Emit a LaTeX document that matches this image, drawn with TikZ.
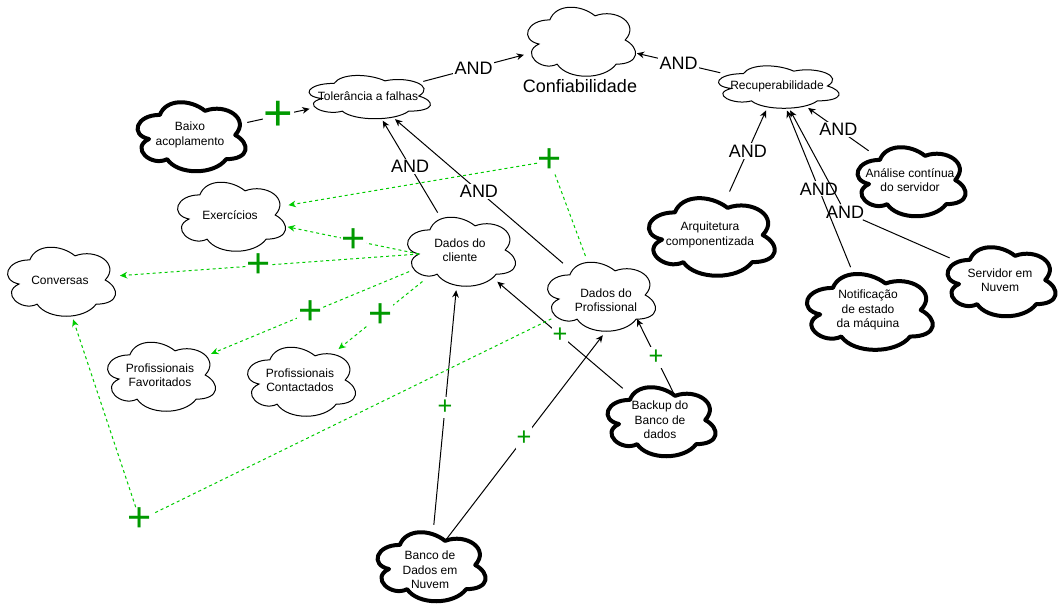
\documentclass[tikz,border=0pt]{standalone}
\usepackage{fontspec}
\setmainfont{Liberation Sans}
\usetikzlibrary{calc,arrows.meta,shapes.geometric}

\definecolor{plusgreen}{RGB}{0,153,0}
\definecolor{dashgreen}{RGB}{0,204,0}

\newcommand{\andfont}{\fontsize{13.5}{16}\selectfont}
\newcommand{\hugeplusfont}{\fontsize{38}{38}\selectfont}
\newcommand{\bigplusfont}{\fontsize{31}{31}\selectfont}
\newcommand{\smallplusfont}{\fontsize{19}{19}\selectfont}

% cloud outline inside the box of a node
\newcommand{\cldx}[1]{\x1+#1*((\x3)-(\x1))}
\newcommand{\cldy}[1]{\y2+#1*((\y4)-(\y2))}
\newcommand{\cloudpath}[1]{let \p1=(#1.west), \p2=(#1.north), \p3=(#1.east), \p4=(#1.south) in
 ({\cldx{0.25}},{\cldy{0.25}})
 .. controls ({\cldx{0.05}},{\cldy{0.25}}) and ({\cldx{0}},{\cldy{0.5}}) .. ({\cldx{0.16}},{\cldy{0.55}})
 .. controls ({\cldx{0}},{\cldy{0.66}}) and ({\cldx{0.18}},{\cldy{0.9}}) .. ({\cldx{0.31}},{\cldy{0.8}})
 .. controls ({\cldx{0.4}},{\cldy{1}}) and ({\cldx{0.7}},{\cldy{1}}) .. ({\cldx{0.8}},{\cldy{0.8}})
 .. controls ({\cldx{1}},{\cldy{0.8}}) and ({\cldx{1}},{\cldy{0.6}}) .. ({\cldx{0.875}},{\cldy{0.5}})
 .. controls ({\cldx{1}},{\cldy{0.3}}) and ({\cldx{0.8}},{\cldy{0.1}}) .. ({\cldx{0.625}},{\cldy{0.2}})
 .. controls ({\cldx{0.5}},{\cldy{0.05}}) and ({\cldx{0.3}},{\cldy{0.05}}) .. cycle}

\begin{document}
\begin{tikzpicture}[x=0.75pt,y=-0.75pt,font=\fontsize{9}{10.8}\selectfont,every label/.style={align=center,inner sep=0pt}]

\tikzset{
cloudnode/.style={ellipse,inner sep=0pt,minimum width=90pt,minimum height=60pt},
thincloud/.style={draw=black,line width=0.75pt},
thickcloud/.style={draw=black,line width=3pt,line join=round},
andline/.style={->,>={Stealth[length=5.5pt,width=5pt]},line width=0.75pt},
plusline/.style={->,>={Stealth[length=5.5pt,width=5pt]},dashgreen,line width=0.75pt,dash pattern=on 2.25pt off 2.25pt},
andlab/.style={font=\andfont,fill=white,inner sep=1pt},
bigplus/.style={font=\bigplusfont,text=plusgreen,fill=white,inner sep=0.5pt},
smallplus/.style={font=\smallplusfont,text=plusgreen,fill=white,inner sep=0.5pt,minimum height=16pt}
}

\useasboundingbox (0,0) rectangle (1063,608);

% Nodes
\node[cloudnode,label={[font=\andfont,label distance=-1pt]below:Confiabilidade}] (conf) at (580,40) {};
\node[cloudnode,minimum width=101.25pt,minimum height=37.5pt,label={center:Tolerância a falhas}] (tol) at (368,96) {};
\node[cloudnode,minimum width=100.5pt,minimum height=36.75pt,label={center:Recuperabilidade}] (rec) at (777,86) {};

\node[cloudnode,label={center:Baixo\\acoplamento}] (baixo) at (190,135) {};
\node[cloudnode,label={center:Exercícios}] (exer) at (230,215) {};
\node[cloudnode,label={center:Conversas}] (conv) at (60,280) {};
\node[cloudnode,label={center:Dados do\\cliente}] (dcli) at (460,250) {};
\node[cloudnode,label={[xshift=4.5pt,yshift=-3.75pt]center:Dados do\\Profissional}] (dpro) at (600,295) {};
\node[cloudnode,label={center:Profissionais\\Favoritados}] (pfav) at (160,375) {};
\node[cloudnode,label={center:Profissionais\\Contactados}] (pcon) at (300,380) {};
\node[cloudnode,label={center:Backup do\\Banco de\\dados}] (backup) at (660,420) {};
\node[cloudnode,label={[yshift=-3.75pt]center:Banco de\\Dados em\\Nuvem}] (bd) at (430,565) {};

\node[cloudnode,minimum width=105pt,minimum height=67.5pt,label={center:Arquitetura\\componentizada}] (arq) at (710,235) {};
\node[cloudnode,label={center:Análise contínua\\do servidor}] (anal) at (910,180) {};
\node[cloudnode,minimum width=105pt,minimum height=66pt,label={center:Notificação\\de estado\\da máquina}] (notif) at (868,310) {};
\node[cloudnode,label={center:Servidor em\\Nuvem}] (serv) at (1000,280) {};

\node[bigplus] (pluswp1) at (550,161) {+};
\node[bigplus] (pluswp2) at (140,520) {+};
\node[andlab] (andwp) at (845,212) {AND};

% Clouds
\draw[thincloud] \cloudpath{conf};
\draw[thincloud] \cloudpath{tol};
\draw[thincloud] \cloudpath{rec};
\draw[thincloud] \cloudpath{exer};
\draw[thincloud] \cloudpath{conv};
\draw[thincloud] \cloudpath{dcli};
\draw[thincloud] \cloudpath{dpro};
\draw[thincloud] \cloudpath{pfav};
\draw[thincloud] \cloudpath{pcon};

\draw[thickcloud] \cloudpath{baixo};
\draw[thickcloud] \cloudpath{backup};
\draw[thickcloud] \cloudpath{bd};
\draw[thickcloud] \cloudpath{arq};
\draw[thickcloud] \cloudpath{anal};
\draw[thickcloud] \cloudpath{notif};
\draw[thickcloud] \cloudpath{serv};

% Arrows
\draw[andline] (tol) -- node[andlab] (and1) {AND} (conf);
\draw[andline] (rec) -- node[andlab] (and2) {AND} (conf);
\draw[andline] (dcli) -- node[andlab] (and3) {AND} (tol);
\draw[andline] (dpro) -- node[andlab] (and4) {AND} (tol);
\draw[andline] (arq) -- node[andlab] (and5) {AND} (rec);
\draw[andline] (anal) -- node[andlab] (and6) {AND} (rec);
\draw[andline] (notif) -- node[andlab] (and7) {AND} (rec);
\draw[andline] (serv) -- (andwp) -- (rec);

\draw[andline] (baixo) -- node[bigplus,font=\hugeplusfont] (plus1) {+} (tol);
\draw[andline] (bd) -- node[smallplus] (plus2) {+} (dcli);
\draw[andline] ($(bd.center)+(15,-24)$) -- node[smallplus] (plus3) {+} (dpro.274);
\draw[andline] (backup) -- node[smallplus] (plus4) {+} (dcli);
\draw[andline] ($(backup.center)+(15,-24)$) -- node[smallplus] (plus5) {+} ($(dpro.center)+(37,24)$);

\draw[plusline] ($(dcli.center)+(-41,4)$) -- node[bigplus] (plus6) {+} (exer);
\draw[plusline] ($(dcli.center)+(-41,4)$) -- node[bigplus,pos=0.535] (plus7) {+} (conv);
\draw[plusline] (dcli.203) -- node[bigplus] (plus8) {+} (pfav);
\draw[plusline] (dcli.220) -- node[bigplus] (plus9) {+} (pcon);
\draw[plusline] (dpro) -- (pluswp1) -- (exer);
\draw[plusline] (dpro) -- (pluswp2) -- (conv);

\end{tikzpicture}
\end{document}
